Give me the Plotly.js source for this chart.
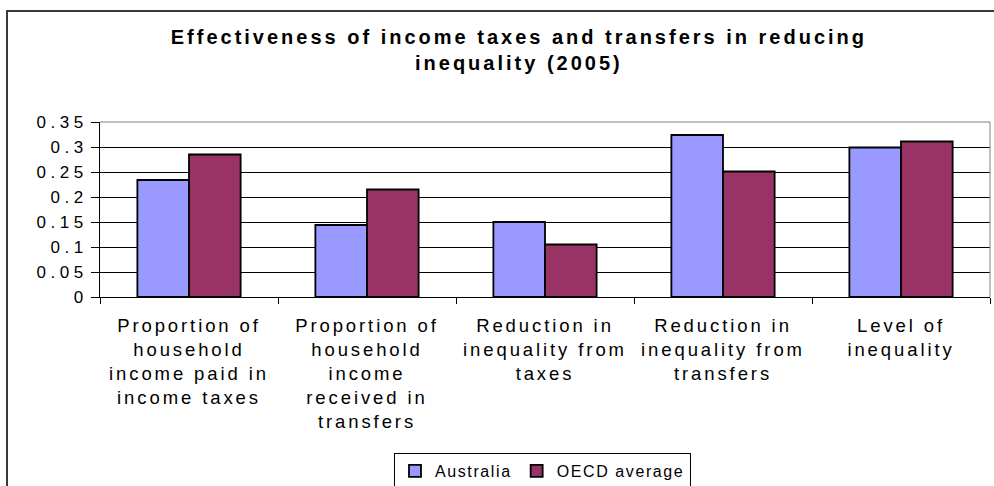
<!DOCTYPE html>
<html>
<head>
<meta charset="utf-8">
<script src="https://cdn.plot.ly/plotly-3.0.1.min.js"></script>
<style>
  html, body { margin: 0; padding: 0; background: #fff; }
  #wrap { position: relative; width: 994px; height: 486px; overflow: hidden; }
  #frame { position: absolute; left: 6px; top: 10px; width: 1000px; height: 500px;
           border-top: 2px solid #3a3a3a; border-left: 2px solid #3a3a3a; pointer-events: none; z-index: 2; }
  #chart { position: absolute; left: 0; top: 0; width: 994px; height: 486px; }
  .gtitle { letter-spacing: 3px; }
  #chart .xtick text { letter-spacing: 2.9px; }
  #chart .ytick text { letter-spacing: 4.5px; }
  .legendtext { letter-spacing: 1.6px; }
</style>
</head>
<body>
<div id="wrap">
  <div id="chart"></div>
  <div id="frame"></div>
</div>
<script>
const categories = [
  "Proportion of<br>household<br>income paid in<br>income taxes",
  "Proportion of<br>household<br>income<br>received in<br>transfers",
  "Reduction in<br>inequality from<br>taxes",
  "Reduction in<br>inequality from<br>transfers",
  "Level of<br>inequality"
];
const seriesNames = ["Australia", "OECD average"];
const australia = [0.234, 0.144, 0.150, 0.324, 0.299];
const oecd = [0.285, 0.215, 0.105, 0.251, 0.311];
const titleText = "Effectiveness of income taxes and transfers in reducing<br>inequality (2005)";

const FONT = "Arial, 'Liberation Sans', sans-serif";

const traces = [
  { type: "bar", name: seriesNames[0], x: categories, y: australia,
    marker: { color: "#9999FF", line: { color: "#000000", width: 1.8 } } },
  { type: "bar", name: seriesNames[1], x: categories, y: oecd,
    marker: { color: "#993366", line: { color: "#000000", width: 1.8 } } }
];

const layout = {
  width: 994, height: 486,
  margin: { l: 100, r: 4, t: 122, b: 189, pad: 0, autoexpand: false },
  paper_bgcolor: "rgba(0,0,0,0)",
  plot_bgcolor: "#ffffff",
  font: { family: FONT, color: "#000000", size: 16 },
  barmode: "group",
  bargap: 0.42,
  bargroupgap: 0,
  showlegend: true,
  title: {
    text: titleText,
    font: { family: FONT, size: 20, color: "#000000", weight: "bold" },
    xref: "container", x: 0.522, xanchor: "center",
    yref: "container", y: 1 - 44 / 486, yanchor: "top"
  },
  xaxis: {
    type: "category",
    showgrid: false,
    showline: true, linecolor: "#000000", linewidth: 1,
    ticks: "outside", tickson: "boundaries", ticklen: 6, tickcolor: "#000000", tickwidth: 1,
    tickfont: { family: FONT, size: 18.5, color: "#000000" },
    ticklabelstandoff: 12,
    tickangle: 0,
    automargin: false,
    fixedrange: true
  },
  yaxis: {
    range: [0, 0.35], dtick: 0.05, tick0: 0,
    showgrid: true, gridcolor: "#000000", gridwidth: 1,
    zeroline: false,
    showline: true, linecolor: "#000000", linewidth: 1,
    ticks: "outside", ticklen: 8, tickcolor: "#000000", tickwidth: 1,
    tickfont: { family: FONT, size: 17, color: "#000000" },
    automargin: false,
    fixedrange: true
  },
  legend: {
    orientation: "h",
    x: (542.5 - 100) / 890, xanchor: "center",
    y: (297 - 453) / 175, yanchor: "top",
    bordercolor: "#000000", borderwidth: 1, bgcolor: "#ffffff",
    font: { family: FONT, size: 16, color: "#000000" },
    traceorder: "normal"
  },
  shapes: [
    { type: "path", xref: "paper", yref: "paper",
      path: "M 0 1 L 1 1 L 1 0", line: { color: "#808080", width: 1 }, layer: "above" }
  ]
};

Plotly.newPlot("chart", traces, layout, { displayModeBar: false, staticPlot: true });
</script>
</body>
</html>
